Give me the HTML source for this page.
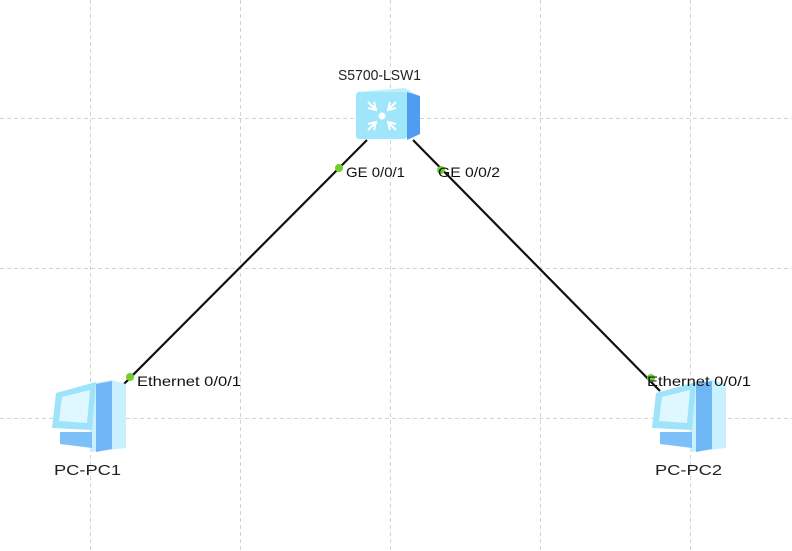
<!DOCTYPE html>
<html><head><meta charset="utf-8"><style>
html,body{margin:0;padding:0;background:#fff;}
svg{display:block;font-family:"Liberation Sans",Arial,sans-serif;}
</style></head><body>
<svg width="792" height="551" viewBox="0 0 792 551" xmlns="http://www.w3.org/2000/svg">
<g stroke="#d4d4d4" stroke-width="1" stroke-dasharray="4,3">
<line x1="90.5" y1="0" x2="90.5" y2="551"/>
<line x1="240.5" y1="0" x2="240.5" y2="551"/>
<line x1="390.5" y1="0" x2="390.5" y2="551"/>
<line x1="540.5" y1="0" x2="540.5" y2="551"/>
<line x1="690.5" y1="0" x2="690.5" y2="551"/>
<line x1="0" y1="118.5" x2="792" y2="118.5"/>
<line x1="0" y1="268.5" x2="792" y2="268.5"/>
<line x1="0" y1="418.5" x2="792" y2="418.5"/>
</g>
<g stroke="#111" stroke-width="2.2">
<line x1="367" y1="140" x2="120" y2="388"/>
<line x1="413" y1="140" x2="660" y2="391"/>
</g>
<g>
<polygon points="357,92 405,88 419,96 372,100" fill="#bfeffd"/>
<rect x="356" y="92" width="51" height="47" rx="3" fill="#9fe6fb"/>
<polygon points="407,92 420,96 420,134 407,140" fill="#4f9cf3"/>
<g stroke="#fff" stroke-width="2" fill="none">
<path d="M368,102 l8,8 M368,108 l8,2 l-2,-8"/>
<path d="M396,102 l-8,8 M396,108 l-8,2 l2,-8"/>
<path d="M368,130 l8,-8 M368,124 l8,-2 l-2,8"/>
<path d="M396,130 l-8,-8 M396,124 l-8,-2 l2,8"/>
</g>
<circle cx="382" cy="116" r="3.5" fill="#fff"/>
</g>
<g id="pc1">
<polygon points="90,384 112,380 126,384 126,448 90,452" fill="#c8f0ff"/>
<polygon points="96,384 112,381 112,449 96,452" fill="#6fb6f5"/>
<polygon points="56,393 96,382 92,430 52,428" fill="#9fe3fb"/>
<polygon points="62,397 90,390 87,423 59,421" fill="#dff8ff"/>
<polygon points="60,432 92,432 92,448 60,444" fill="#7cc0f7"/>
</g>
<use href="#pc1" x="600" y="0"/>
<g fill="#6fcf2f">
<circle cx="339" cy="168" r="4"/>
<circle cx="441" cy="170" r="4"/>
<circle cx="130" cy="377" r="4"/>
<circle cx="651" cy="378" r="4"/>
</g>
<g font-size="15" fill="#222">
<text x="338" y="80" textLength="83" lengthAdjust="spacingAndGlyphs">S5700-LSW1</text>
<text x="54" y="475" textLength="67" lengthAdjust="spacingAndGlyphs">PC-PC1</text>
<text x="655" y="475" textLength="67" lengthAdjust="spacingAndGlyphs">PC-PC2</text>
</g>
<g font-size="14" fill="#111">
<text x="346" y="177" textLength="59" lengthAdjust="spacingAndGlyphs">GE 0/0/1</text>
<text x="438" y="177" textLength="62" lengthAdjust="spacingAndGlyphs">GE 0/0/2</text>
<text x="137" y="386" textLength="104" lengthAdjust="spacingAndGlyphs">Ethernet 0/0/1</text>
<text x="647" y="386" textLength="104" lengthAdjust="spacingAndGlyphs">Ethernet 0/0/1</text>
</g>
</svg>
</body></html>
